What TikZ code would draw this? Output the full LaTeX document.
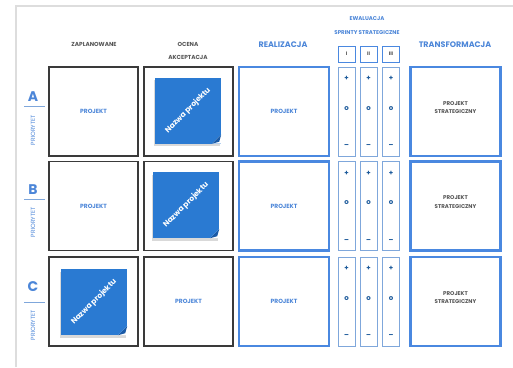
\documentclass[tikz,border=0pt]{standalone}
\usepackage{fontspec}
\setmainfont{Poppins}
\usepackage{tikz}
\usetikzlibrary{shadows}

\definecolor{framegray}{HTML}{DDDDDD}
\definecolor{boxgray}{HTML}{3A3A3A}
\definecolor{boxblue}{HTML}{4A88E0}
\definecolor{lightblue}{HTML}{7FA7DB}
\definecolor{textblue}{HTML}{4C86D8}
\definecolor{darkblue}{HTML}{1F5C9C}
\definecolor{stickyblue}{HTML}{2A7AD2}
\definecolor{folddark}{HTML}{1A5AA6}
\definecolor{textgray}{HTML}{555555}

\begin{document}
\begin{tikzpicture}[x=1pt,y=-1pt,
    plainbox/.style={draw=boxgray,line width=1.2pt,minimum width=89pt,minimum height=89pt,inner sep=0pt},
    bluebox/.style={draw=boxblue,line width=2.2pt,minimum width=90pt,minimum height=89pt,inner sep=0pt},
    sprintbox/.style={draw=lightblue,line width=0.9pt,minimum width=17pt,minimum height=89pt,inner sep=0pt},
    numbox/.style={draw=boxblue,line width=1pt,minimum width=17pt,minimum height=16pt,inner sep=0pt,
      text=textgray,font=\bfseries\fontsize{5}{6}\selectfont},
    sym/.style={text=darkblue,font=\bfseries\fontsize{7}{8}\selectfont,inner sep=0pt},
    head/.style={text=textgray,font=\bfseries\fontsize{5.8}{13}\selectfont,align=center},
    bighead/.style={text=textblue,font=\bfseries\fontsize{8}{9}\selectfont},
    smallhead/.style={text=textblue,font=\bfseries\fontsize{5.5}{6}\selectfont},
    proj/.style={text=textblue,font=\bfseries\fontsize{6}{7}\selectfont},
    strat/.style={text=textgray,font=\bfseries\fontsize{5.5}{8.5}\selectfont,align=center},
    letter/.style={text=textblue,font=\bfseries\fontsize{14}{14}\selectfont,inner sep=0pt},
    prio/.style={text=textblue,font=\fontsize{6}{7}\selectfont,rotate=90,inner sep=0pt},
    sticky/.style={fill=stickyblue,minimum size=66pt,inner sep=0pt,
      drop shadow={shadow xshift=-1.5pt,shadow yshift=-2.5pt,opacity=.3},
      text=white,font=\bfseries\fontsize{7.5}{8}\selectfont}]
  \useasboundingbox (0,0) rectangle (513,367);
  \draw[framegray,line width=1.5pt] (16,367) -- (16,6) -- (513,6);

  % headers
  \node[head] (hzap) at (94,44) {ZAPLANOWANE};
  \node[head] (hoce) at (188,50.5) {OCENA\\AKCEPTACJA};
  \node[bighead] (hrea) at (283,45) {REALIZACJA};
  \node[smallhead] (hewa) at (367,19) {EWALUACJA};
  \node[smallhead] (hspr) at (367,33) {SPRINTY STRATEGICZNE};
  \node[bighead] (htra) at (455,45) {TRANSFORMACJA};
  \node[numbox] (n1) at (346.5,54) {I};
  \node[numbox] (n2) at (368.5,54) {II};
  \node[numbox] (n3) at (391,54) {III};

  % row labels
  \node[letter] (lA) at (33,97) {A};
  \draw[lightblue,line width=0.8pt] (24,106) -- (45,106);
  \node[prio] (pA) at (33,130) {PRIORYTET};
  \node[letter] (lB) at (33,190) {B};
  \draw[lightblue,line width=0.8pt] (24,199) -- (45,199);
  \node[prio] (pB) at (33,222) {PRIORYTET};
  \node[letter] (lC) at (33,287) {C};
  \draw[lightblue,line width=0.8pt] (24,302) -- (45,302);
  \node[prio] (pC) at (33,325) {PRIORYTET};

  % row A
  \node[plainbox] (zA) at (93.5,111.5) {};
  \node[proj] at (zA) {PROJEKT};
  \node[plainbox] (oA) at (188.5,111.5) {};
  \node[bluebox] (rA) at (284,111.5) {};
  \node[proj] at (rA) {PROJEKT};
  \node[sprintbox] (sA1) at (346.5,111.5) {};
  \node[sprintbox] (sA2) at (368.5,111.5) {};
  \node[sprintbox] (sA3) at (391,111.5) {};
  \node[bluebox] (tA) at (455.5,111.5) {};
  \node[strat] at ([yshift=4pt]tA.center) {PROJEKT\\STRATEGICZNY};

  % row B
  \node[plainbox] (zB) at (93.5,206) {};
  \node[proj] at (zB) {PROJEKT};
  \node[plainbox] (oB) at (188.5,206) {};
  \node[bluebox] (rB) at (284,206) {};
  \node[proj] at (rB) {PROJEKT};
  \node[sprintbox] (sB1) at (346.5,206) {};
  \node[sprintbox] (sB2) at (368.5,206) {};
  \node[sprintbox] (sB3) at (391,206) {};
  \node[bluebox] (tB) at (455.5,206) {};
  \node[strat] at ([yshift=4pt]tB.center) {PROJEKT\\STRATEGICZNY};

  % row C
  \node[plainbox] (zC) at (93.5,301.5) {};
  \node[plainbox] (oC) at (188.5,301.5) {};
  \node[proj] at (oC) {PROJEKT};
  \node[bluebox] (rC) at (284,301.5) {};
  \node[proj] at (rC) {PROJEKT};
  \node[sprintbox] (sC1) at (346.5,301.5) {};
  \node[sprintbox] (sC2) at (368.5,301.5) {};
  \node[sprintbox] (sC3) at (391,301.5) {};
  \node[bluebox] (tC) at (455.5,301.5) {};
  \node[strat] at ([yshift=4pt]tC.center) {PROJEKT\\STRATEGICZNY};

  % sprint marks
  \node[sym] at ([yshift=-12pt]sA1.north) {+};
  \node[sym] at ([yshift=-12pt]sA2.north) {+};
  \node[sym] at ([yshift=-12pt]sA3.north) {+};
  \node[sym] at ([yshift=3pt]sA1.center) {o};
  \node[sym] at ([yshift=3pt]sA2.center) {o};
  \node[sym] at ([yshift=3pt]sA3.center) {o};
  \node[sym] at ([yshift=10pt]sA1.south) {--};
  \node[sym] at ([yshift=10pt]sA2.south) {--};
  \node[sym] at ([yshift=10pt]sA3.south) {--};
  \node[sym] at ([yshift=-12pt]sB1.north) {+};
  \node[sym] at ([yshift=-12pt]sB2.north) {+};
  \node[sym] at ([yshift=-12pt]sB3.north) {+};
  \node[sym] at ([yshift=3pt]sB1.center) {o};
  \node[sym] at ([yshift=3pt]sB2.center) {o};
  \node[sym] at ([yshift=3pt]sB3.center) {o};
  \node[sym] at ([yshift=10pt]sB1.south) {--};
  \node[sym] at ([yshift=10pt]sB2.south) {--};
  \node[sym] at ([yshift=10pt]sB3.south) {--};
  \node[sym] at ([yshift=-12pt]sC1.north) {+};
  \node[sym] at ([yshift=-12pt]sC2.north) {+};
  \node[sym] at ([yshift=-12pt]sC3.north) {+};
  \node[sym] at ([yshift=3pt]sC1.center) {o};
  \node[sym] at ([yshift=3pt]sC2.center) {o};
  \node[sym] at ([yshift=3pt]sC3.center) {o};
  \node[sym] at ([yshift=10pt]sC1.south) {--};
  \node[sym] at ([yshift=10pt]sC2.south) {--};
  \node[sym] at ([yshift=10pt]sC3.south) {--};

  % sticky notes
  \node[sticky] (nA) at (188,110.5) {\rotatebox{45}{Nazwa projektu}};
  \fill[white] ([xshift=-9pt]nA.south east) -- (nA.south east) -- ([yshift=9pt]nA.south east) -- cycle;
  \fill[folddark] ([xshift=-9pt]nA.south east) -- ([yshift=9pt]nA.south east) -- ([xshift=-2pt,yshift=2pt]nA.south east) -- cycle;
  \node[sticky] (nB) at (186,205) {\rotatebox{45}{Nazwa projektu}};
  \fill[white] ([xshift=-9pt]nB.south east) -- (nB.south east) -- ([yshift=9pt]nB.south east) -- cycle;
  \fill[folddark] ([xshift=-9pt]nB.south east) -- ([yshift=9pt]nB.south east) -- ([xshift=-2pt,yshift=2pt]nB.south east) -- cycle;
  \node[sticky] (nC) at (94,302) {\rotatebox{45}{Nazwa projektu}};
  \fill[white] ([xshift=-9pt]nC.south east) -- (nC.south east) -- ([yshift=9pt]nC.south east) -- cycle;
  \fill[folddark] ([xshift=-9pt]nC.south east) -- ([yshift=9pt]nC.south east) -- ([xshift=-2pt,yshift=2pt]nC.south east) -- cycle;
\end{tikzpicture}
\end{document}
